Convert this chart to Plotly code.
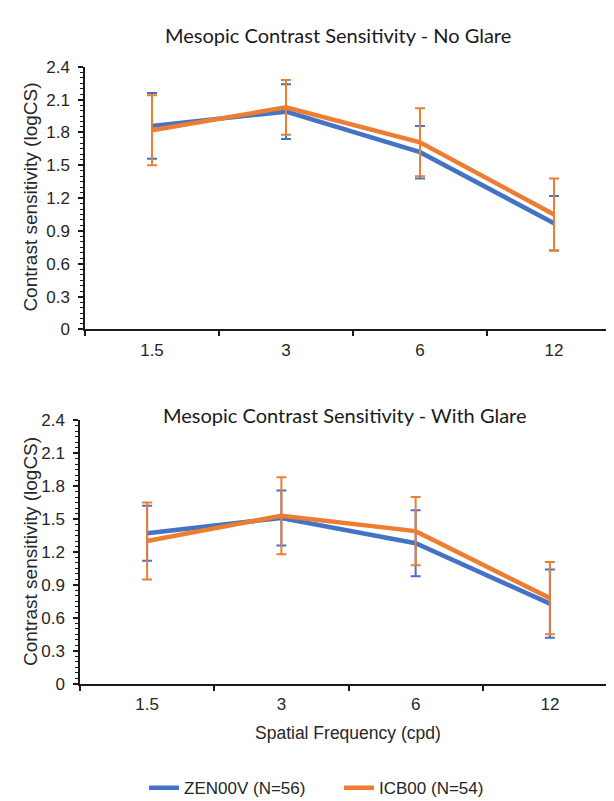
import plotly.graph_objects as go

categories = ["1.5", "3", "6", "12"]

# No glare
zen_ng = [1.86, 1.99, 1.62, 0.97]
zen_ng_err = [0.30, 0.25, 0.24, 0.25]
icb_ng = [1.82, 2.03, 1.71, 1.05]
icb_ng_err = [0.32, 0.25, 0.31, 0.33]

# With glare
zen_wg = [1.37, 1.51, 1.28, 0.73]
zen_wg_err = [0.25, 0.25, 0.30, 0.31]
icb_wg = [1.30, 1.53, 1.39, 0.78]
icb_wg_err = [0.35, 0.35, 0.31, 0.33]

series_names = ["ZEN00V (N=56)", "ICB00 (N=54)"]
titles = ["Mesopic Contrast Sensitivity - No Glare", "Mesopic Contrast Sensitivity - With Glare"]
x_title = "Spatial Frequency (cpd)"
y_title = "Contrast sensitivity (logCS)"

BLUE = "#4472C4"
ORANGE = "#ED7D31"
W, H = 614, 801
SANS = "Liberation Sans, Arial"
TICK_FONT = dict(family=SANS, size=17, color="#262626")
TITLE_FONT = dict(family="Lato, Carlito, Calibri", size=20, color="#1a1a1a")

fig = go.Figure()

def add_pair(zen, zen_err, icb, icb_err, xa, ya, show):
    fig.add_trace(go.Scatter(
        x=categories, y=zen, name=series_names[0], mode="lines",
        line=dict(color=BLUE, width=4.5), xaxis=xa, yaxis=ya, showlegend=show,
        error_y=dict(type="data", array=zen_err, color=BLUE, thickness=2, width=5),
    ))
    fig.add_trace(go.Scatter(
        x=categories, y=icb, name=series_names[1], mode="lines",
        line=dict(color=ORANGE, width=4.5), xaxis=xa, yaxis=ya, showlegend=show,
        error_y=dict(type="data", array=icb_err, color=ORANGE, thickness=2, width=5),
    ))

add_pair(zen_ng, zen_ng_err, icb_ng, icb_ng_err, "x", "y", True)
add_pair(zen_wg, zen_wg_err, icb_wg, icb_wg_err, "x2", "y2", False)

def px_x(p):
    return p / W

def px_y(p):
    return 1 - p / H

xcommon = dict(type="category", categoryorder="array", categoryarray=categories,
               range=[-0.5, 3.5], showline=True, linecolor="#1a1a1a", linewidth=1.5,
               ticks="outside", tickson="boundaries", ticklen=5, tickwidth=1.5,
               tickcolor="#1a1a1a", tickfont=TICK_FONT, showgrid=False, zeroline=False,
               ticklabelstandoff=4, fixedrange=True)
ycommon = dict(range=[0, 2.4], dtick=0.3, tick0=0, showline=True, linecolor="#1a1a1a",
               linewidth=1.5, ticks="outside", ticklen=5, tickwidth=1.5, tickcolor="#1a1a1a",
               tickfont=TICK_FONT, showgrid=False, zeroline=False, ticklabelstandoff=5,
               minor=dict(dtick=0.05, ticks="outside", ticklen=3, tickwidth=1, tickcolor="#1a1a1a"),
               fixedrange=True)

fig.update_layout(
    width=W, height=H,
    margin=dict(l=0, r=0, t=0, b=0),
    paper_bgcolor="white", plot_bgcolor="white",
    xaxis=dict(domain=[px_x(77), px_x(613)], anchor="y", **xcommon),
    yaxis=dict(domain=[px_y(320), px_y(51)], anchor="x", **ycommon),
    xaxis2=dict(domain=[px_x(72), px_x(609)], anchor="y2", **xcommon),
    yaxis2=dict(domain=[px_y(683), px_y(413)], anchor="x2", **ycommon),
    legend=dict(orientation="h", x=px_x(136), xanchor="left", y=px_y(790), yanchor="middle",
                font=dict(family=SANS, size=17, color="#262626"),
                entrywidth=150, itemwidth=30, tracegroupgap=0, bgcolor="rgba(0,0,0,0)"),
    showlegend=True,
)

AX_FONT = dict(family=SANS, size=17.5, color="#262626")
YT_FONT = dict(family=SANS, size=19, color="#262626")
annotations = [
    dict(text=titles[0], x=px_x(330), y=px_y(18), xref="paper", yref="paper",
         showarrow=False, font=TITLE_FONT, xanchor="center", yanchor="middle"),
    dict(text=titles[1], x=px_x(337), y=px_y(408), xref="paper", yref="paper",
         showarrow=False, font=TITLE_FONT, xanchor="center", yanchor="middle"),
    dict(text=y_title, x=px_x(23), y=px_y(185), xref="paper", yref="paper", textangle=-90,
         showarrow=False, font=YT_FONT, xanchor="center", yanchor="middle"),
    dict(text=y_title, x=px_x(22), y=px_y(548), xref="paper", yref="paper", textangle=-90,
         showarrow=False, font=YT_FONT, xanchor="center", yanchor="middle"),
    dict(text=x_title, x=px_x(340), y=px_y(733), xref="paper", yref="paper",
         showarrow=False, font=AX_FONT, xanchor="center", yanchor="middle"),
]
fig.update_layout(annotations=annotations)

fig.write_html("out.html")
